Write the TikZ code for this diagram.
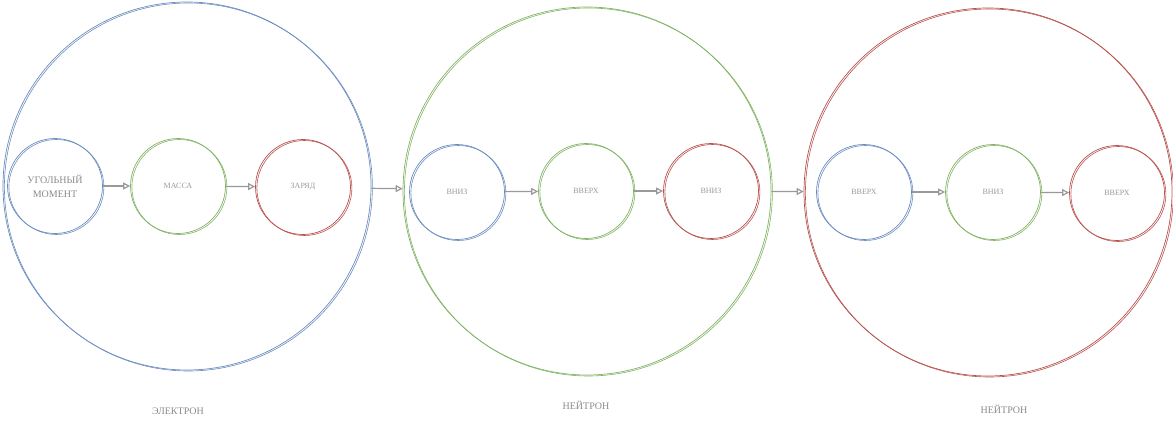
\documentclass[tikz,border=0pt]{standalone}
\usepackage{fontspec}
\setmainfont{Liberation Serif}
\usetikzlibrary{arrows.meta}
\definecolor{blau}{HTML}{6C8EBF}
\definecolor{gruen}{HTML}{82B366}
\definecolor{rot}{HTML}{B85450}
\definecolor{grau}{HTML}{999999}
\definecolor{textgrau}{HTML}{8A8A8A}

\begin{document}
\begin{tikzpicture}[x=1pt,y=-1pt,>={Triangle[open,length=7pt,width=7pt]},
  kreis/.style={circle,draw=#1,line width=.7pt,inner sep=0pt,text=grau,font=\fontsize{8}{9}\selectfont,
    postaction={draw=#1,line width=.6pt,transform canvas={shift={(1.4pt,-1pt)}}}},
  klein/.style={kreis=#1,minimum size=95pt},
  gross/.style={kreis=#1,minimum size=368pt},
  pfeil/.style={draw=grau,line width=1.2pt,->},
  teilchen/.style={text=textgrau,font=\fontsize{10}{12}\selectfont}]
  \useasboundingbox (0,0) rectangle (1173,428);
  % grosse Kreise
  \node[gross=blau]  (elektron) at (187,186) {};
  \node[gross=gruen] (neutronA) at (587,191) {};
  \node[gross=rot]   (neutronB) at (988,192) {};
  % Elektron
  \node[klein=blau,text=textgrau,font=\fontsize{10}{14}\selectfont,align=center] (moment) at (55,186) {УГОЛЬНЫЙ\\МОМЕНТ};
  \node[klein=gruen] (masse) at (178,186) {МАССА};
  \node[klein=rot]   (ladung) at (303,187) {ЗАРЯД};
  % Neutron 1
  \node[klein=blau]  (untenA) at (457,192) {ВНИЗ};
  \node[klein=gruen] (obenA)  at (586,191) {ВВЕРХ};
  \node[klein=rot]   (untenB) at (711,191) {ВНИЗ};
  % Neutron 2
  \node[klein=blau]  (obenB)  at (864,192) {ВВЕРХ};
  \node[klein=gruen] (untenC) at (993,192) {ВНИЗ};
  \node[klein=rot]   (obenC)  at (1117,193) {ВВЕРХ};
  % Beschriftung
  \node[teilchen] (lelektron) at (178,411) {ЭЛЕКТРОН};
  \node[teilchen] (lneutronA) at (586,405) {НЕЙТРОН};
  \node[teilchen] (lneutronB) at (1004,409) {НЕЙТРОН};
  % Pfeile
  \foreach \a/\b in {moment/masse,masse/ladung,elektron/neutronA,untenA/obenA,obenA/untenB,
    neutronA/neutronB,obenB/untenC,untenC/obenC}
    \draw[pfeil] (\a) -- (\b);
\end{tikzpicture}
\end{document}
